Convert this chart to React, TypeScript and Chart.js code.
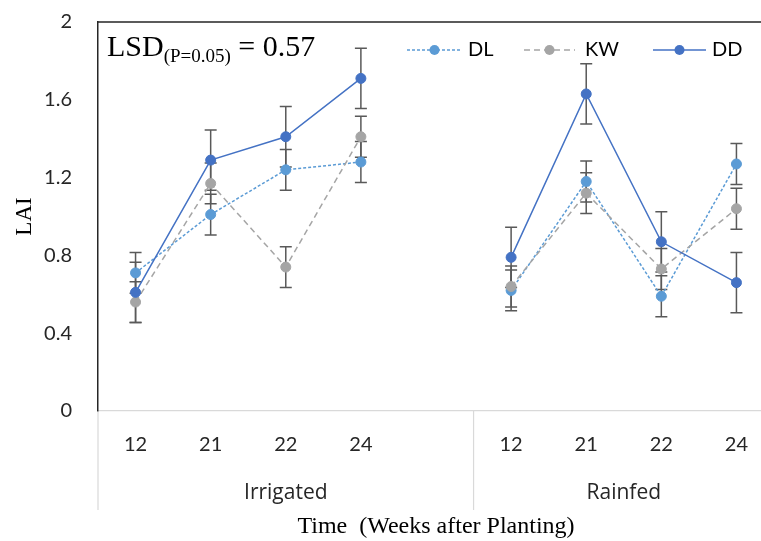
import React, { useEffect, useRef } from 'react';
import { Chart, registerables } from 'chart.js';

Chart.register(...registerables);

// ---- Data ----
const categories = ['12', '21', '22', '24', '', '12', '21', '22', '24'];
const groupNames = ['Irrigated', 'Rainfed'];
const groupSizes = [5, 4];
const seriesNames = ['DL', 'KW', 'DD'];
const dlValues = [0.71, 1.01, 1.24, 1.28, null, 0.62, 1.18, 0.59, 1.27];
const kwValues = [0.56, 1.17, 0.74, 1.41, null, 0.64, 1.12, 0.73, 1.04];
const ddValues = [0.61, 1.29, 1.41, 1.71, null, 0.79, 1.63, 0.87, 0.66];
const dlErrors = [0.105, 0.105, 0.105, 0.105, null, 0.105, 0.105, 0.105, 0.105];
const kwErrors = [0.105, 0.105, 0.105, 0.105, null, 0.105, 0.105, 0.105, 0.105];
const ddErrors = [0.155, 0.155, 0.155, 0.155, null, 0.155, 0.155, 0.155, 0.155];
const yTicks = [0, 0.4, 0.8, 1.2, 1.6, 2];
const lsdText = { main: 'LSD', sub: '(P=0.05)', rest: ' = 0.57' };
const xTitle = 'Time  (Weeks after Planting)';
const yTitle = 'LAI';

const COLORS = { DL: '#5B9BD5', KW: '#A5A5A5', DD: '#4472C4' };
const DASHES: Record<string, number[]> = { DL: [3, 2], KW: [6, 4], DD: [] };
const ERR_COLOR = '#595959';
const TICK_FONT = '"Lato", "Open Sans", sans-serif';
const LABEL_FONT = '"Open Sans", "Lato", sans-serif';
const SERIF = '"Liberation Serif", "Times New Roman", serif';

const errorsBySeries = [dlErrors, kwErrors, ddErrors];

const decorPlugin = {
  id: 'decor',
  beforeDatasetsDraw(chart: any) {
    const ctx = chart.ctx;
    const y = chart.scales.y;
    ctx.save();
    ctx.strokeStyle = ERR_COLOR;
    ctx.lineWidth = 1.5;
    ctx.setLineDash([]);
    chart.data.datasets.forEach((ds: any, di: number) => {
      const meta = chart.getDatasetMeta(di);
      const errs = errorsBySeries[di];
      ds.data.forEach((v: number | null, i: number) => {
        if (v === null || errs[i] === null) return;
        const px = meta.data[i].x;
        const top = y.getPixelForValue(v + (errs[i] as number));
        const bot = y.getPixelForValue(v - (errs[i] as number));
        ctx.beginPath();
        ctx.moveTo(px, top);
        ctx.lineTo(px, bot);
        ctx.moveTo(px - 6, top);
        ctx.lineTo(px + 6, top);
        ctx.moveTo(px - 6, bot);
        ctx.lineTo(px + 6, bot);
        ctx.stroke();
      });
    });
    ctx.restore();
  },
  afterDraw(chart: any) {
    const ctx = chart.ctx;
    const area = chart.chartArea;
    const x = chart.scales.x;
    ctx.save();
    ctx.setLineDash([]);
    // frame: top line
    ctx.fillStyle = '#262626';
    ctx.fillRect(area.left - 0.75, area.top - 0.75, area.right - area.left + 1, 1.5);

    // group separators and names
    const slot = x.getPixelForValue(1) - x.getPixelForValue(0);
    ctx.fillStyle = '#D9D9D9';
    let start = 0;
    const bounds: number[] = [x.getPixelForValue(0) - slot / 2];
    groupSizes.forEach((n) => {
      start += n;
      bounds.push(x.getPixelForValue(start - 1) + slot / 2);
    });
    bounds.forEach((b) => {
      ctx.fillRect(b - 0.6, area.bottom, 1.2, 99);
    });
    ctx.fillStyle = '#262626';
    ctx.font = `21px ${LABEL_FONT}`;
    ctx.textAlign = 'center';
    ctx.textBaseline = 'alphabetic';
    groupNames.forEach((g, gi) => {
      const cx = (bounds[gi] + bounds[gi + 1]) / 2;
      ctx.fillText(g, cx, area.bottom + 88);
    });

    // x title
    ctx.fillStyle = '#000';
    ctx.font = `24px ${SERIF}`;
    ctx.fillText(xTitle, (area.left + area.right) / 2, 533);

    // y title
    ctx.save();
    ctx.translate(31, (area.top + area.bottom) / 2);
    ctx.rotate(-Math.PI / 2);
    ctx.textAlign = 'center';
    ctx.textBaseline = 'alphabetic';
    ctx.font = `23px ${SERIF}`;
    ctx.fillText(yTitle, 0, 0);
    ctx.restore();

    // LSD annotation
    ctx.textAlign = 'left';
    ctx.textBaseline = 'alphabetic';
    let lx = area.left + 9;
    ctx.font = `30px ${SERIF}`;
    ctx.fillText(lsdText.main, lx, 56);
    lx += ctx.measureText(lsdText.main).width;
    ctx.font = `19px ${SERIF}`;
    ctx.fillText(lsdText.sub, lx, 62);
    lx += ctx.measureText(lsdText.sub).width;
    ctx.font = `30px ${SERIF}`;
    ctx.fillText(lsdText.rest, lx, 56);

    // legend
    const legendItems = [
      { x0: 407, x1: 462, tx: 468 },
      { x0: 524, x1: 575, tx: 585 },
      { x0: 653, x1: 706, tx: 712 },
    ];
    const ly = 50;
    chart.data.datasets.forEach((ds: any, di: number) => {
      const it = legendItems[di];
      ctx.strokeStyle = ds.borderColor;
      ctx.lineWidth = 1.5;
      ctx.setLineDash(ds.borderDash || []);
      ctx.beginPath();
      ctx.moveTo(it.x0, ly);
      ctx.lineTo(it.x1, ly);
      ctx.stroke();
      ctx.setLineDash([]);
      ctx.fillStyle = ds.backgroundColor;
      ctx.beginPath();
      ctx.arc((it.x0 + it.x1) / 2, ly, 5, 0, Math.PI * 2);
      ctx.fill();
      ctx.fillStyle = '#000';
      ctx.font = `20px ${TICK_FONT}`;
      ctx.textBaseline = 'middle';
      ctx.textAlign = 'left';
      ctx.fillText(ds.label, it.tx, ly);
    });
    ctx.restore();
  },
};

export default function App() {
  const ref = useRef<HTMLCanvasElement | null>(null);
  useEffect(() => {
    if (!ref.current) return;
    const mk = (name: string, data: (number | null)[], order: number) => ({
      label: name,
      data,
      borderColor: COLORS[name as keyof typeof COLORS],
      backgroundColor: COLORS[name as keyof typeof COLORS],
      borderWidth: 1.5,
      borderDash: DASHES[name],
      pointRadius: 5,
      pointBorderWidth: 1,
      pointBackgroundColor: COLORS[name as keyof typeof COLORS],
      pointBorderColor: COLORS[name as keyof typeof COLORS],
      spanGaps: false,
      tension: 0,
      order,
    });
    const chart = new Chart(ref.current, {
      type: 'line',
      data: {
        labels: categories,
        datasets: [
          mk(seriesNames[0], dlValues, 2),
          mk(seriesNames[1], kwValues, 1),
          mk(seriesNames[2], ddValues, 0),
        ],
      },
      options: {
        animation: false,
        responsive: false,
        devicePixelRatio: 1,
        layout: { padding: { left: 0, right: 26, top: 22, bottom: 0 } },
        plugins: { legend: { display: false }, tooltip: { enabled: false } },
        scales: {
          x: {
            type: 'category',
            offset: true,
            grid: { display: false, drawTicks: false },
            border: { display: true, color: '#D9D9D9', width: 1.2 },
            ticks: {
              autoSkip: false,
              maxRotation: 0,
              padding: 22,
              color: '#262626',
              font: { family: TICK_FONT, size: 20 },
            },
            afterFit: (s: any) => { s.height = 130; s.paddingLeft = 0; s.paddingRight = 0; },
          },
          y: {
            min: 0,
            max: 2,
            afterBuildTicks: (s: any) => { s.ticks = yTicks.map((v) => ({ value: v })); },
            grid: { display: false, drawTicks: false },
            border: { display: true, color: '#262626', width: 1.5 },
            ticks: {
              padding: 26,
              color: '#262626',
              font: { family: TICK_FONT, size: 20 },
              callback: (v: any) => (v === 0 || v === 2 ? String(v) : Number(v).toFixed(1)),
            },
            afterFit: (s: any) => { s.width = 98; s.paddingTop = 12; s.paddingBottom = 0; },
          },
        },
      },
      plugins: [decorPlugin],
    } as any);
    return () => chart.destroy();
  }, []);
  return (
    <div style={{ position: 'fixed', left: 0, top: 0, width: 761, height: 541, overflow: 'hidden', background: '#fff' }}>
      <canvas ref={ref} width={800} height={541} style={{ display: 'block', width: 800, height: 541 }} />
    </div>
  );
}
